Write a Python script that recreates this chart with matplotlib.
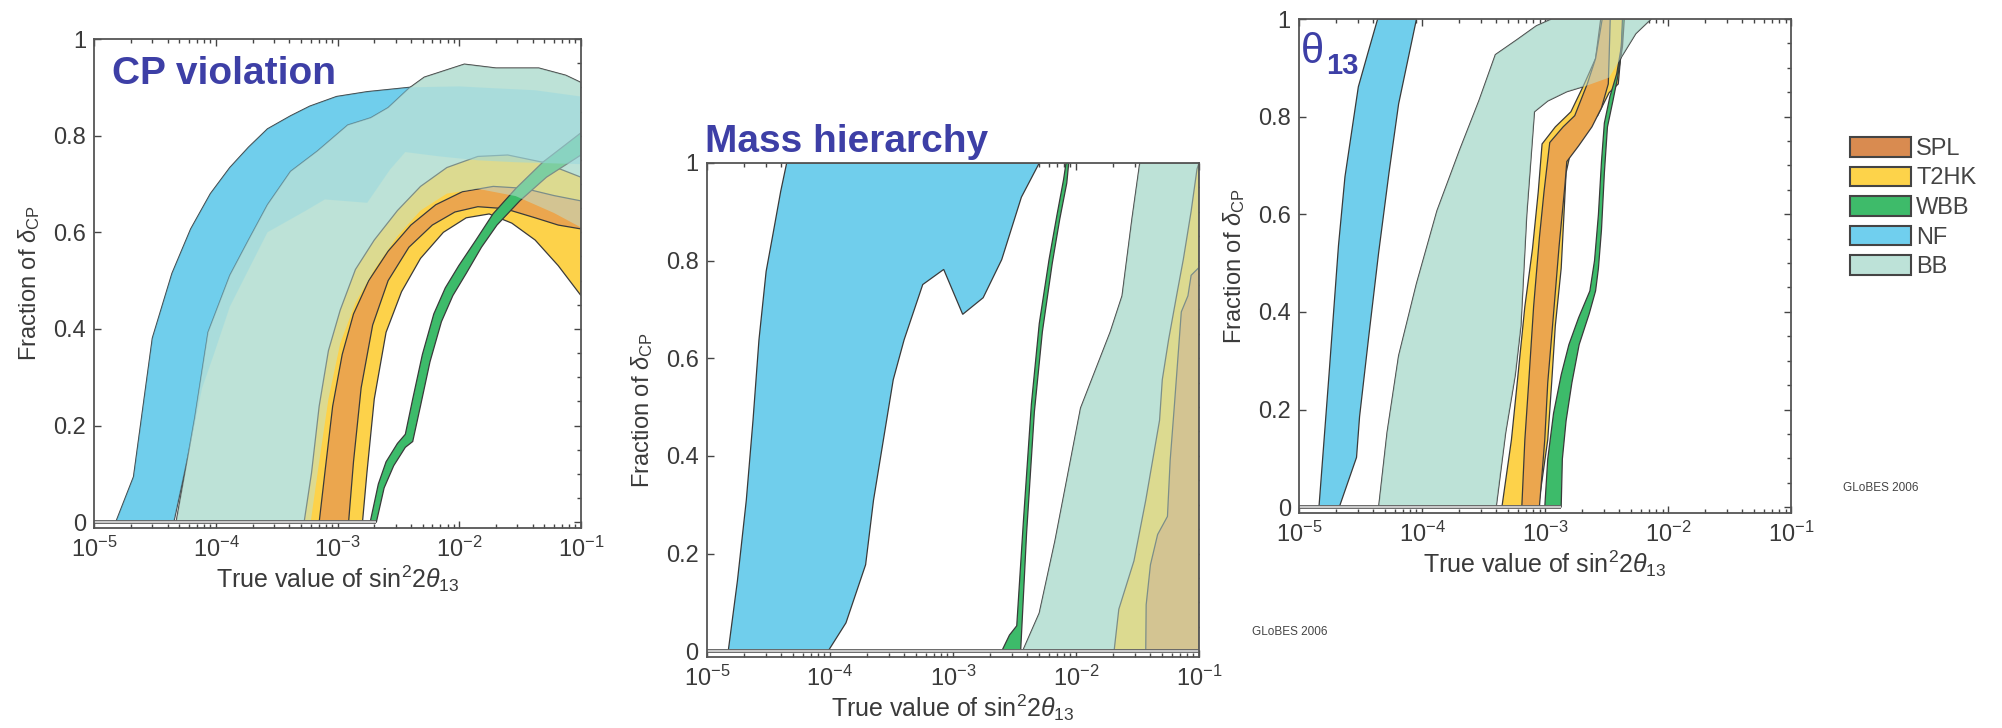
import matplotlib
matplotlib.use("Agg")
import matplotlib.pyplot as plt
import matplotlib.patheffects as pe
from matplotlib.patches import Patch
from matplotlib.ticker import LogLocator, NullFormatter, MultipleLocator

plt.rcParams['font.family'] = ['Liberation Sans', 'DejaVu Sans']
plt.rcParams['mathtext.fontset'] = 'custom'
plt.rcParams['mathtext.rm'] = 'Liberation Sans'
plt.rcParams['mathtext.it'] = 'Liberation Sans:italic'
plt.rcParams['mathtext.bf'] = 'Liberation Sans:bold'

experiments = ['SPL', 'T2HK', 'WBB', 'NF', 'BB']
legend_colors = ['#D98B50', '#FDD34A', '#3EBB6A', '#70CFEE', '#BDE2D8']
fill_colors = {'SPL': '#EBA64E', 'T2HK': '#FDD24A', 'WBB': '#3DBB6A',
               'NF': '#70CEEC', 'BB': '#BDE2D7'}

xticks = [1e-5, 1e-4, 1e-3, 1e-2, 1e-1]
yticks = [0, 0.2, 0.4, 0.6, 0.8, 1]
ytick_labels = ['0', '0.2', '0.4', '0.6', '0.8', '1']

# ---------------- CP violation: fraction of dCP vs sin^2 2theta13 ----------
cp_nf_outer_x = [1.5e-5, 2.1e-5, 3.0e-5, 4.35e-5, 6.2e-5, 9.0e-5, 1.3e-4, 1.85e-4, 2.65e-4,
                 4.1e-4, 5.9e-4, 9.8e-4, 1.75e-3, 3.9e-3, 1.0e-2, 2.0e-2, 4.2e-2, 1.0e-1]
cp_nf_outer_y = [0, 0.094, 0.381, 0.515, 0.607, 0.680, 0.734, 0.776, 0.814,
                 0.841, 0.861, 0.881, 0.891, 0.900, 0.902, 0.898, 0.894, 0.881]
cp_nf_inner_x = [4.5e-5, 6.2e-5, 7.7e-5, 9.6e-5, 1.3e-4, 2.65e-4, 5.5e-4, 7.85e-4,
                 1.75e-3, 2.7e-3, 3.6e-3, 6.9e-3, 1.42e-2, 2.9e-2, 1.0e-1]
cp_nf_inner_y = [0, 0.163, 0.278, 0.347, 0.446, 0.600, 0.645, 0.668,
                 0.661, 0.730, 0.766, 0.757, 0.749, 0.745, 0.741]

cp_bb_outer_x = [4.7e-5, 6.7e-5, 8.6e-5, 1.3e-4, 1.85e-4, 2.65e-4, 4.1e-4, 6.8e-4, 1.21e-3,
                 1.87e-3, 2.6e-3, 3.85e-3, 5.15e-3, 1.1e-2, 2.0e-2, 4.5e-2, 7.5e-2, 1.0e-1]
cp_bb_outer_y = [0, 0.217, 0.393, 0.511, 0.584, 0.657, 0.726, 0.768, 0.822,
                 0.837, 0.858, 0.898, 0.921, 0.948, 0.940, 0.940, 0.925, 0.910]
cp_bb_inner_x = [6.0e-4, 7.05e-4, 8.4e-4, 1.05e-3, 1.4e-3, 2.0e-3, 3.1e-3, 4.8e-3,
                 7.9e-3, 1.42e-2, 2.9e-2, 6.0e-2, 1.0e-1]
cp_bb_inner_y = [0, 0.125, 0.255, 0.370, 0.454, 0.523, 0.592, 0.645,
                 0.680, 0.690, 0.675, 0.640, 0.610]

cp_t2hk_outer_x = [5.3e-4, 6.1e-4, 7.05e-4, 8.4e-4, 1.05e-3, 1.4e-3, 2.0e-3, 3.1e-3,
                   4.8e-3, 7.9e-3, 1.42e-2, 2.5e-2, 4.85e-2, 1.0e-1]
cp_t2hk_outer_y = [0, 0.102, 0.240, 0.355, 0.439, 0.523, 0.584, 0.645,
                   0.695, 0.734, 0.757, 0.760, 0.745, 0.714]
cp_t2hk_inner_x = [1.6e-3, 1.74e-3, 2.0e-3, 2.5e-3, 3.35e-3, 4.8e-3, 7.4e-3, 1.14e-2,
                   1.76e-2, 2.7e-2, 4.2e-2, 6.5e-2, 1.0e-1]
cp_t2hk_inner_y = [0, 0.102, 0.255, 0.393, 0.477, 0.546, 0.600, 0.630,
                   0.638, 0.619, 0.584, 0.531, 0.469]

cp_spl_outer_x = [7.05e-4, 7.85e-4, 9.1e-4, 1.09e-3, 1.35e-3, 1.8e-3, 2.6e-3, 4.0e-3,
                  6.4e-3, 1.06e-2, 1.9e-2, 3.4e-2, 6.0e-2, 1.0e-1]
cp_spl_outer_y = [0, 0.102, 0.240, 0.347, 0.431, 0.500, 0.561, 0.615,
                  0.657, 0.684, 0.695, 0.691, 0.676, 0.665]
cp_spl_inner_x = [1.23e-3, 1.35e-3, 1.56e-3, 1.94e-3, 2.6e-3, 3.85e-3, 6.0e-3, 9.2e-3,
                  1.42e-2, 2.36e-2, 4.2e-2, 6.5e-2, 1.0e-1]
cp_spl_inner_y = [0, 0.125, 0.278, 0.408, 0.500, 0.569, 0.615, 0.642,
                  0.653, 0.649, 0.630, 0.615, 0.607]

cp_wbb_outer_x = [1.85e-3, 2.16e-3, 2.5e-3, 3.1e-3, 3.6e-3, 4.14e-3, 4.97e-3, 6.17e-3,
                  7.67e-3, 9.9e-3, 1.37e-2, 1.89e-2, 2.92e-2, 4.85e-2, 1.0e-1]
cp_wbb_outer_y = [0, 0.079, 0.125, 0.163, 0.182, 0.255, 0.347, 0.431,
                  0.485, 0.531, 0.584, 0.638, 0.691, 0.745, 0.806]
cp_wbb_inner_x = [2.08e-3, 2.41e-3, 2.89e-3, 3.6e-3, 4.14e-3, 4.79e-3, 5.74e-3, 7.13e-3,
                  8.85e-3, 1.14e-2, 1.52e-2, 2.04e-2, 3.14e-2, 5.2e-2, 1.0e-1]
cp_wbb_inner_y = [0, 0.071, 0.117, 0.155, 0.167, 0.240, 0.332, 0.415,
                  0.469, 0.515, 0.569, 0.615, 0.665, 0.714, 0.760]

# ---------------- Mass hierarchy: left / right edge of each region ----------
mh_nf_left_x = [1.49e-5, 1.77e-5, 2.09e-5, 2.37e-5, 2.65e-5, 3.03e-5, 3.43e-5, 3.98e-5, 4.45e-5]
mh_nf_left_y = [0, 0.144, 0.309, 0.473, 0.638, 0.778, 0.852, 0.942, 1.0]
mh_nf_right_x = [9.66e-5, 1.35e-4, 1.95e-4, 2.26e-4, 3.27e-4, 4.01e-4, 5.68e-4, 8.41e-4,
                 1.2e-3, 1.76e-3, 2.49e-3, 3.6e-3, 5.03e-3]
mh_nf_right_y = [0, 0.058, 0.177, 0.309, 0.556, 0.638, 0.751, 0.782,
                 0.690, 0.724, 0.802, 0.930, 1.0]

mh_wbb_left_x = [2.49e-3, 2.88e-3, 3.3e-3, 3.74e-3, 4.34e-3, 5.03e-3, 6.04e-3, 7.0e-3, 7.94e-3, 8.3e-3]
mh_wbb_left_y = [0, 0.033, 0.052, 0.267, 0.506, 0.671, 0.802, 0.893, 0.967, 1.0]
mh_wbb_right_x = [3.55e-3, 3.97e-3, 4.59e-3, 5.33e-3, 6.41e-3, 7.38e-3, 8.42e-3, 8.73e-3]
mh_wbb_right_y = [0, 0.243, 0.490, 0.654, 0.794, 0.885, 0.959, 1.0]

mh_bb_left_x = [3.68e-3, 5.03e-3, 6.75e-3, 1.09e-2, 1.9e-2, 2.37e-2, 2.85e-2, 3.3e-2]
mh_bb_left_y = [0, 0.078, 0.226, 0.498, 0.654, 0.728, 0.885, 1.0]
mh_bb_right_x = [1e-1, 1e-1]
mh_bb_right_y = [0, 1.0]

mh_t2hk_left_x = [2.04e-2, 2.23e-2, 2.96e-2, 3.69e-2, 4.78e-2, 5.03e-2, 5.66e-2, 6.67e-2,
                  7.45e-2, 8.63e-2, 9.64e-2, 1e-1]
mh_t2hk_left_y = [0, 0.086, 0.185, 0.309, 0.473, 0.556, 0.638, 0.737, 0.802, 0.901, 0.988, 1.0]
mh_t2hk_right_x = [1e-1, 1e-1]
mh_t2hk_right_y = [0, 1.0]

mh_spl_left_x = [3.69e-2, 3.72e-2, 4.03e-2, 4.61e-2, 5.54e-2, 5.83e-2, 6.32e-2, 6.91e-2,
                 7.18e-2, 8.13e-2, 8.63e-2, 1e-1]
mh_spl_left_y = [0, 0.095, 0.177, 0.239, 0.276, 0.391, 0.506, 0.638, 0.695, 0.728, 0.770, 0.786]
mh_spl_right_x = [1e-1, 1e-1]
mh_spl_right_y = [0, 0.786]

# ---------------- theta13: left / right edge of each region ----------------
th_nf_left_x = [1.45e-5, 1.75e-5, 2.09e-5, 2.36e-5, 3.03e-5, 3.63e-5, 4.35e-5]
th_nf_left_y = [0, 0.271, 0.536, 0.677, 0.861, 0.931, 1.0]
th_nf_right_x = [2.12e-5, 2.93e-5, 3.1e-5, 3.68e-5, 4.43e-5, 5.38e-5, 6.44e-5, 7.7e-5, 9.0e-5]
th_nf_right_y = [0, 0.102, 0.185, 0.349, 0.521, 0.685, 0.826, 0.919, 1.0]

th_bb_left_x = [4.43e-5, 5.19e-5, 6.44e-5, 9.0e-5, 1.32e-4, 2.02e-4, 2.9e-4, 3.94e-4,
                5.93e-4, 8.48e-4, 1.13e-3]
th_bb_left_y = [0, 0.153, 0.310, 0.458, 0.607, 0.732, 0.833, 0.927, 0.958, 0.986, 1.0]
th_bb_right_x = [4.0e-4, 4.78e-4, 5.72e-4, 6.36e-4, 7.09e-4, 8.19e-4, 1.05e-3, 1.5e-3,
                 2.15e-3, 3.31e-3, 4.1e-3, 5.46e-3, 7.28e-3]
th_bb_right_y = [0, 0.153, 0.271, 0.372, 0.599, 0.810, 0.832, 0.851,
                 0.863, 0.880, 0.919, 0.970, 1.0]

th_t2hk_left_x = [4.45e-4, 5.32e-4, 5.93e-4, 6.84e-4, 7.89e-4, 8.79e-4, 9.44e-4, 1.21e-3,
                  1.62e-3, 2.08e-3, 2.57e-3, 2.83e-3]
th_t2hk_left_y = [0, 0.138, 0.255, 0.411, 0.529, 0.646, 0.744, 0.779, 0.810, 0.867, 0.919, 1.0]
th_t2hk_right_x = [8.79e-4, 1.05e-3, 1.13e-3, 1.21e-3, 1.35e-3, 1.48e-3, 1.65e-3, 2.15e-3,
                   2.67e-3, 3.31e-3, 3.93e-3, 4.10e-3, 4.31e-3]
th_t2hk_right_y = [0, 0.138, 0.255, 0.372, 0.489, 0.685, 0.740, 0.779,
                   0.802, 0.849, 0.867, 0.919, 1.0]

th_spl_left_x = [6.46e-4, 6.84e-4, 7.35e-4, 8.06e-4, 8.98e-4, 9.79e-4, 1.09e-3, 1.40e-3,
                 1.74e-3, 2.20e-3, 2.57e-3, 2.91e-3]
th_spl_left_y = [0, 0.138, 0.255, 0.411, 0.552, 0.646, 0.747, 0.779, 0.802, 0.867, 0.919, 1.0]
th_spl_right_x = [8.98e-4, 9.93e-4, 1.05e-3, 1.17e-3, 1.30e-3, 1.45e-3, 1.50e-3, 1.87e-3,
                  2.40e-3, 2.87e-3, 3.26e-3, 3.31e-3, 3.38e-3]
th_spl_right_y = [0, 0.138, 0.255, 0.396, 0.536, 0.661, 0.708, 0.740,
                  0.779, 0.818, 0.867, 0.919, 1.0]

th_wbb_left_x = [9.93e-4, 1.05e-3, 1.17e-3, 1.35e-3, 1.56e-3, 1.87e-3, 2.31e-3, 2.52e-3,
                 2.71e-3, 2.87e-3, 3.03e-3, 3.36e-3, 3.82e-3, 4.16e-3, 4.25e-3]
th_wbb_left_y = [0, 0.0985, 0.192, 0.271, 0.333, 0.388, 0.443, 0.505,
                 0.599, 0.708, 0.787, 0.841, 0.888, 0.943, 1.0]
th_wbb_right_x = [1.35e-3, 1.38e-3, 1.48e-3, 1.65e-3, 1.89e-3, 2.28e-3, 2.57e-3, 2.71e-3,
                  2.87e-3, 3.03e-3, 3.21e-3, 3.56e-3, 3.88e-3, 4.25e-3, 4.40e-3]
th_wbb_right_y = [0, 0.0985, 0.177, 0.255, 0.333, 0.396, 0.443, 0.489,
                  0.568, 0.685, 0.779, 0.833, 0.880, 0.943, 1.0]

EDGE = '#3a3a3a'


def outline(ax_x, ax_y, bx, by):
    return list(ax_x) + list(bx)[::-1], list(ax_y) + list(by)[::-1]


def draw_bands(ax, bands, overlay):
    # opaque pass with outlines, then a half-transparent pass so overlaps blend
    for name, xa, ya, xb, yb in bands:
        xs, ys = outline(xa, ya, xb, yb)
        ax.fill(xs, ys, facecolor=fill_colors[name], edgecolor=EDGE, lw=0.9, zorder=2)
    for name, xa, ya, xb, yb in bands:
        if name in overlay:
            xs, ys = outline(xa, ya, xb, yb)
            ax.fill(xs, ys, facecolor=fill_colors[name], alpha=0.5, lw=0, zorder=3)
    # degenerate edges running along zero
    end = max(xa[0] for _, xa, ya, _, _ in bands if ya[0] == 0)
    end = max(end, max(xb[0] for _, _, _, xb, yb in bands if yb[0] == 0))
    ax.plot([1e-5, end], [0, 0], color='#dddddd', lw=1.2, solid_capstyle='butt', zorder=4,
            path_effects=[pe.Stroke(linewidth=2.8, foreground='#666666'), pe.Normal()])


def style_axes(ax):
    ax.set_xscale('log')
    ax.set_xlim(1e-5, 1e-1)
    ax.set_ylim(-0.012, 1)
    ax.set_xticks(xticks)
    ax.xaxis.set_minor_locator(LogLocator(base=10, subs=range(2, 10)))
    ax.xaxis.set_minor_formatter(NullFormatter())
    ax.set_yticks(yticks, ytick_labels)
    ax.yaxis.set_minor_locator(MultipleLocator(0.05))
    ax.tick_params(which='both', direction='in', top=True, right=True,
                   color='#444444', labelcolor='#3a3a3a', labelsize=17, width=1)
    ax.tick_params(which='major', length=5, pad=6)
    ax.tick_params(which='minor', length=3, left=False)
    for s in ax.spines.values():
        s.set_color('#555555')
        s.set_linewidth(1.3)
        s.set_zorder(6)
    ax.set_xlabel(r'True value of sin$^2$2$\theta_{13}$', fontsize=18, color='#3a3a3a', labelpad=1)
    ax.set_ylabel(r'Fraction of $\delta_{\rm CP}$', fontsize=17, color='#3a3a3a', labelpad=8)


fig = plt.figure(figsize=(20.02, 7.28), dpi=100)
TITLE_COLOR = '#3D3FA6'

ax1 = fig.add_axes([0.0471, 0.2747, 0.2431, 0.6717])
draw_bands(ax1, [
    ('NF', cp_nf_outer_x, cp_nf_outer_y, cp_nf_inner_x, cp_nf_inner_y),
    ('BB', cp_bb_outer_x, cp_bb_outer_y, cp_bb_inner_x, cp_bb_inner_y),
    ('T2HK', cp_t2hk_outer_x, cp_t2hk_outer_y, cp_t2hk_inner_x, cp_t2hk_inner_y),
    ('SPL', cp_spl_outer_x, cp_spl_outer_y, cp_spl_inner_x, cp_spl_inner_y),
    ('WBB', cp_wbb_outer_x, cp_wbb_outer_y, cp_wbb_inner_x, cp_wbb_inner_y),
], overlay=['BB', 'NF'])
style_axes(ax1)
ax1.text(0.036, 0.907, 'CP violation', transform=ax1.transAxes, fontsize=28,
         fontweight='bold', color=TITLE_COLOR, va='baseline', zorder=7)

ax2 = fig.add_axes([0.3531, 0.0975, 0.2458, 0.6786])
draw_bands(ax2, [
    ('NF', mh_nf_left_x, mh_nf_left_y, mh_nf_right_x, mh_nf_right_y),
    ('WBB', mh_wbb_left_x, mh_wbb_left_y, mh_wbb_right_x, mh_wbb_right_y),
    ('BB', mh_bb_left_x, mh_bb_left_y, mh_bb_right_x, mh_bb_right_y),
    ('T2HK', mh_t2hk_left_x, mh_t2hk_left_y, mh_t2hk_right_x, mh_t2hk_right_y),
    ('SPL', mh_spl_left_x, mh_spl_left_y, mh_spl_right_x, mh_spl_right_y),
], overlay=['BB'])
style_axes(ax2)
ax2.text(-0.004, 1.022, 'Mass hierarchy', transform=ax2.transAxes, fontsize=28,
         fontweight='bold', color=TITLE_COLOR, va='baseline')

ax3 = fig.add_axes([0.6489, 0.2953, 0.2458, 0.6786])
draw_bands(ax3, [
    ('NF', th_nf_left_x, th_nf_left_y, th_nf_right_x, th_nf_right_y),
    ('BB', th_bb_left_x, th_bb_left_y, th_bb_right_x, th_bb_right_y),
    ('T2HK', th_t2hk_left_x, th_t2hk_left_y, th_t2hk_right_x, th_t2hk_right_y),
    ('SPL', th_spl_left_x, th_spl_left_y, th_spl_right_x, th_spl_right_y),
    ('WBB', th_wbb_left_x, th_wbb_left_y, th_wbb_right_x, th_wbb_right_y),
], overlay=['BB'])
style_axes(ax3)
ax3.text(0.004, 0.91, '\u03b8', transform=ax3.transAxes, fontsize=30,
         color=TITLE_COLOR, va='baseline', zorder=7)
ax3.text(0.054, 0.888, '13', transform=ax3.transAxes, fontsize=21, fontweight='bold',
         color=TITLE_COLOR, va='baseline', zorder=7)

handles = [Patch(facecolor=c, edgecolor='#444444', lw=1.5) for c in legend_colors]
fig.legend(handles, experiments, loc='upper left', bbox_to_anchor=(1850 / 2002, 1 - 137 / 728),
           frameon=False, fontsize=17, labelcolor='#444444', handlelength=2.6,
           handleheight=0.9, handletextpad=0.2, labelspacing=0.28,
           borderpad=0, borderaxespad=0)

fig.text(1843 / 2002, 1 - 488 / 728, 'GLoBES 2006', fontsize=8.5, color='#444444', va='center')
fig.text(1252 / 2002, 1 - 632 / 728, 'GLoBES 2006', fontsize=8.5, color='#444444', va='center')

fig.savefig('out.png', dpi=100)
